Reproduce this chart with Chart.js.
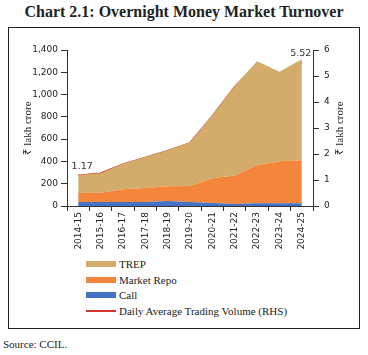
<!DOCTYPE html>
<html>
<head>
<meta charset="utf-8">
<script src="https://cdn.jsdelivr.net/npm/chart.js@4/dist/chart.umd.min.js"></script>
<style>
  html, body { margin: 0; padding: 0; background: #fff; }
  body { width: 368px; height: 355px; position: relative; overflow: hidden; font-family: "Liberation Serif", serif; }
  #title { position: absolute; left: 0; width: 368px; top: 3px; text-align: center; font-weight: bold; font-size: 16px; color: #222; }
  #frame { position: absolute; left: 8px; top: 27px; width: 352px; height: 302px; border: 1.3px solid #222; box-sizing: border-box; }
  #chartWrap { position: absolute; left: 0; top: 0; width: 368px; height: 252px; }
  #legend { position: absolute; left: 86px; top: 256px; font-size: 11px; color: #222; }
  .item { height: 15.7px; display: flex; align-items: center; }
  .sw { width: 30px; margin-right: 3px; }
  #source { position: absolute; left: 3px; top: 338px; font-size: 11px; color: #222; }
</style>
</head>
<body>
<div id="title">Chart 2.1: Overnight Money Market Turnover</div>
<div id="frame"></div>
<div id="chartWrap"><canvas id="c" width="368" height="252"></canvas></div>
<div id="legend"></div>
<div id="source">Source: CCIL.</div>
<script>
const categories = ["2014-15","2015-16","2016-17","2017-18","2018-19","2019-20","2020-21","2021-22","2022-23","2023-24","2024-25"];
const callValues = [35, 35, 36, 36, 44, 36, 27, 18, 25, 25, 24];
const marketRepoValues = [82, 85, 114, 126, 133, 144, 222, 255, 340, 376, 386];
const trepValues = [163, 175, 230, 278, 323, 392, 566, 807, 935, 804, 908];
const dailyAvgValues = [1.17, 1.25, 1.6, 1.86, 2.12, 2.42, 3.45, 4.58, 5.45, 5.05, 5.52];
const leftTicks = { min: 0, max: 1400, step: 200 };
const rightTicks = { min: 0, max: 6, step: 1 };
const axisTitle = "₹ lakh crore";

const COLORS = { trep: "#D3AB6B", repo: "#F3863A", call: "#4472C4", avg: "#D6372A" };
const tickFont = { family: "DejaVu Sans", size: 9 };
const serif = "Liberation Serif";

const endLabels = {
  id: "endLabels",
  afterDatasetsDraw(chart) {
    const ds = chart.data.datasets[3];
    const meta = chart.getDatasetMeta(3);
    const ctx = chart.ctx;
    ctx.save();
    ctx.font = "9.5px DejaVu Sans";
    ctx.fillStyle = "#333";
    ctx.textAlign = "center";
    ctx.textBaseline = "bottom";
    [0, ds.data.length - 1].forEach(i => {
      const p = meta.data[i];
      ctx.fillText(ds.data[i].toFixed(2), p.x + (i === 0 ? 4 : -1), p.y - 4);
    });
    ctx.restore();
  }
};

// right axis title reads bottom-to-top like the left one
const rightTitle = {
  id: "rightTitle",
  afterDraw(chart) {
    const s = chart.scales.y1;
    const ctx = chart.ctx;
    ctx.save();
    ctx.translate(340, (s.top + s.bottom) / 2);
    ctx.rotate(-Math.PI / 2);
    ctx.font = "11px " + serif;
    ctx.fillStyle = "#222";
    ctx.textAlign = "center";
    ctx.textBaseline = "middle";
    ctx.fillText(axisTitle, 0, 0);
    ctx.restore();
  }
};

const chart = new Chart(document.getElementById("c"), {
  type: "line",
  data: {
    labels: categories,
    datasets: [
      { label: "Call", data: callValues, yAxisID: "y", stack: "s", fill: "origin", backgroundColor: COLORS.call, borderWidth: 0, pointRadius: 0, tension: 0 },
      { label: "Market Repo", data: marketRepoValues, yAxisID: "y", stack: "s", fill: "-1", backgroundColor: COLORS.repo, borderWidth: 0, pointRadius: 0, tension: 0 },
      { label: "TREP", data: trepValues, yAxisID: "y", stack: "s", fill: "-1", backgroundColor: COLORS.trep, borderWidth: 0, pointRadius: 0, tension: 0 },
      { label: "Daily Average Trading Volume (RHS)", data: dailyAvgValues, yAxisID: "y1", fill: false, borderColor: COLORS.avg, borderWidth: 2, pointRadius: 0, tension: 0 }
    ]
  },
  options: {
    responsive: false,
    animation: false,
    layout: { padding: { top: 50, bottom: 0, left: 0, right: 0 } },
    plugins: { legend: { display: false }, tooltip: { enabled: false } },
    scales: {
      x: {
        offset: true,
        grid: { display: true, offset: true, drawOnChartArea: false, tickLength: 5, color: "#333" },
        border: { color: "#333", width: 1 },
        ticks: { font: tickFont, color: "#222", minRotation: 90, maxRotation: 90, padding: 1, autoSkip: false },
        afterFit(s) { s.height = 46; }
      },
      y: {
        stacked: true,
        min: leftTicks.min, max: leftTicks.max,
        grid: { drawOnChartArea: false, tickLength: 6, color: "#333" },
        border: { color: "#333", width: 1 },
        ticks: { stepSize: leftTicks.step, font: tickFont, color: "#222", padding: 3 },
        title: { display: true, text: axisTitle, font: { family: serif, size: 11 }, color: "#222", padding: { top: 22 } },
        afterFit(s) { s.width = 67; }
      },
      y1: {
        position: "right",
        min: rightTicks.min, max: rightTicks.max,
        grid: { drawOnChartArea: false, tickLength: 6, color: "#333" },
        border: { color: "#333", width: 1 },
        ticks: { stepSize: rightTicks.step, font: tickFont, color: "#222", padding: 5 },
        title: { display: false },
        afterFit(s) { s.width = 55; }
      }
    }
  },
  plugins: [endLabels, rightTitle]
});

// HTML legend built from the chart datasets (order: TREP, Market Repo, Call, line)
const legend = document.getElementById("legend");
[2, 1, 0, 3].forEach(i => {
  const ds = chart.data.datasets[i];
  const row = document.createElement("div");
  row.className = "item";
  const sw = document.createElement("span");
  sw.className = "sw";
  if (i === 3) { sw.style.height = "2px"; sw.style.background = ds.borderColor; }
  else { sw.style.height = "6px"; sw.style.background = ds.backgroundColor; }
  const tx = document.createElement("span");
  tx.textContent = ds.label;
  row.appendChild(sw); row.appendChild(tx);
  legend.appendChild(row);
});
</script>
</body>
</html>
